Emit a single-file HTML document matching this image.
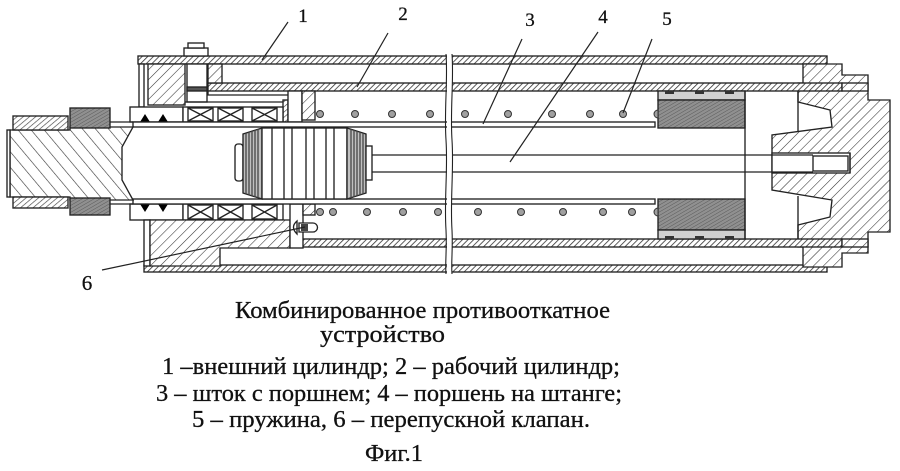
<!DOCTYPE html>
<html><head><meta charset="utf-8">
<style>
html,body{margin:0;padding:0;background:#fff;}
svg{display:block;}
text{font-family:"Liberation Serif","Noto Serif CJK SC",serif;fill:#111;stroke:#111;stroke-width:0.3;}
</style></head><body>
<svg width="900" height="471" viewBox="0 0 900 471" xmlns="http://www.w3.org/2000/svg">
<defs>
<pattern id="hb" patternUnits="userSpaceOnUse" width="4" height="4" patternTransform="rotate(45)"><rect width="4" height="4" fill="#fff"/><line x1="0" y1="0" x2="0" y2="4" stroke="#333" stroke-width="1.6"/></pattern>
<pattern id="h7" patternUnits="userSpaceOnUse" width="7" height="7" patternTransform="rotate(45)"><rect width="7" height="7" fill="#fff"/><line x1="0" y1="0" x2="0" y2="7" stroke="#333" stroke-width="1.1"/></pattern>
<pattern id="hL" patternUnits="userSpaceOnUse" width="10" height="10" patternTransform="rotate(-40)"><rect width="10" height="10" fill="#fff"/><line x1="0" y1="0" x2="0" y2="10" stroke="#333" stroke-width="1.2"/></pattern>
<pattern id="hn" patternUnits="userSpaceOnUse" width="4" height="4" patternTransform="rotate(50)"><rect width="4" height="4" fill="#fff"/><line x1="0" y1="0" x2="0" y2="4" stroke="#444" stroke-width="1.3"/></pattern>
<pattern id="hd" patternUnits="userSpaceOnUse" width="3" height="3" patternTransform="rotate(60)"><rect width="3" height="3" fill="#909090"/><line x1="0" y1="0" x2="0" y2="3" stroke="#5a5a5a" stroke-width="1"/></pattern>
</defs>

<g stroke="#222" stroke-width="1.35">
<!-- outer tubes -->
<rect x="138" y="56" width="689" height="8" fill="url(#hb)"/>
<rect x="144" y="265" width="683" height="7" fill="url(#hb)"/>

<!-- right cap -->
<path d="M803,64 H842 V75 H868 V100 H890 V232 H868 V253 H842 V267 H803 V247 H798 V225 L830,217 L832,200 L772,190 V135 L832,127 L830,110 L798,102 V83 H803 Z" fill="url(#h7)"/>
<rect x="772" y="153" width="78" height="20" fill="#fff"/>
<line x1="798" y1="91" x2="798" y2="131" fill="none"/>
<line x1="798" y1="196" x2="798" y2="240" fill="none"/>

<!-- working cylinder bands -->
<rect x="208" y="83" width="634" height="8" fill="url(#hb)"/>
<rect x="302" y="239" width="540" height="8" fill="url(#hb)"/>
<rect x="842" y="83" width="26" height="8" fill="url(#h7)"/>
<rect x="842" y="239" width="26" height="8" fill="url(#h7)"/>

<!-- top flange -->
<rect x="139" y="64" width="5" height="43" fill="#fff"/>
<rect x="148" y="64" width="37" height="41" fill="url(#h7)"/>
<rect x="208" y="64" width="14" height="19" fill="url(#h7)"/>
<rect x="184" y="48" width="24" height="8" fill="#fff"/>
<rect x="188" y="43" width="16" height="5" fill="#fff"/>
<rect x="187" y="64" width="20" height="38" fill="#fff"/>
<rect x="187" y="87" width="20" height="4" fill="#555"/>
<polyline points="208,91 208,95 288,95" fill="none"/>
<line x1="185" y1="102" x2="283" y2="102"/>
<rect x="283" y="100" width="5" height="22" fill="url(#hn)"/>

<!-- seals & bearings top -->
<rect x="130" y="107" width="53" height="15" fill="#fff"/>
<polygon points="140,122 145,114 150,122" fill="#000" stroke="none"/>
<polygon points="158,122 163,114 168,122" fill="#000" stroke="none"/>
<rect x="183" y="107" width="100" height="15" fill="#fff"/>
<g fill="none">
<rect x="188" y="108" width="25" height="13"/><path d="M188,108 L213,121 M213,108 L188,121"/>
<rect x="218" y="108" width="25" height="13"/><path d="M218,108 L243,121 M243,108 L218,121"/>
<rect x="252" y="108" width="25" height="13"/><path d="M252,108 L277,121 M277,108 L252,121"/>
</g>

<!-- seals & bearings bottom -->
<rect x="130" y="204" width="53" height="16" fill="#fff"/>
<polygon points="140,204 150,204 145,212" fill="#000" stroke="none"/>
<polygon points="158,204 168,204 163,212" fill="#000" stroke="none"/>
<rect x="183" y="204" width="100" height="16" fill="#fff"/>
<g fill="none">
<rect x="188" y="205" width="25" height="14"/><path d="M188,205 L213,219 M213,205 L188,219"/>
<rect x="218" y="205" width="25" height="14"/><path d="M218,205 L243,219 M243,205 L218,219"/>
<rect x="252" y="205" width="25" height="14"/><path d="M252,205 L277,219 M277,205 L252,219"/>
</g>

<!-- lower housing block -->
<rect x="144" y="220" width="6" height="46" fill="#fff"/>
<path d="M150,220 H290 V248 H220 V266 H150 Z" fill="url(#h7)"/>

<!-- separator plate -->
<rect x="288" y="91" width="14" height="31" fill="#fff"/>
<rect x="302" y="91" width="13" height="29" fill="url(#h7)"/>
<rect x="290" y="204" width="13" height="44" fill="#fff"/>
<rect x="303" y="204" width="12" height="11" fill="url(#h7)"/>

<!-- valve 6 -->
<path d="M297,221 Q290,227 297,234 Z" fill="#fff"/>
<path d="M299,223 H313 A4.5,4.5 0 0 1 313,232 H299 Z" fill="#fff"/>
<rect x="301" y="224" width="7" height="7" fill="#444" stroke="none"/>

<!-- rod 3 tube walls -->
<rect x="133" y="122" width="522" height="5" fill="#fff"/>
<rect x="133" y="199" width="522" height="5" fill="#fff"/>

<!-- piston 5 -->
<rect x="658" y="91" width="87" height="9" fill="#d0d0d0"/>
<rect x="658" y="100" width="87" height="28" fill="url(#hd)"/>
<rect x="658" y="199" width="87" height="31" fill="url(#hd)"/>
<rect x="658" y="230" width="87" height="9" fill="#d0d0d0"/>
<g fill="#333" stroke="none">
<rect x="665" y="91" width="9" height="3"/><rect x="695" y="91" width="9" height="3"/><rect x="725" y="91" width="9" height="3"/>
<rect x="665" y="236" width="9" height="3"/><rect x="695" y="236" width="9" height="3"/><rect x="725" y="236" width="9" height="3"/>
</g>
<line x1="745" y1="91" x2="745" y2="239"/>

<!-- rod 4 -->
<line x1="372" y1="155" x2="813" y2="155"/>
<line x1="372" y1="172" x2="813" y2="172"/>
<rect x="813" y="156" width="35" height="15" fill="#fff"/>
<line x1="850" y1="153" x2="850" y2="173"/>

<!-- piston 4 (ribbed) -->
<rect x="235" y="144" width="8" height="37" rx="3" fill="#fff"/>
<polygon points="243,134 262,128 262,199 243,193" fill="#c0c0c0"/>
<g stroke="#444" stroke-width="1.3" fill="none">
<line x1="246" y1="133" x2="246" y2="194"/><line x1="249" y1="132" x2="249" y2="195"/><line x1="252" y1="131" x2="252" y2="196"/><line x1="255" y1="130" x2="255" y2="197"/><line x1="258" y1="129" x2="258" y2="198"/>
</g>
<rect x="262" y="128" width="85" height="71" fill="#fff"/>
<g fill="none">
<line x1="272" y1="128" x2="272" y2="199"/><line x1="284" y1="128" x2="284" y2="199"/><line x1="292" y1="128" x2="292" y2="199"/><line x1="306" y1="128" x2="306" y2="199"/><line x1="314" y1="128" x2="314" y2="199"/><line x1="326" y1="128" x2="326" y2="199"/><line x1="334" y1="128" x2="334" y2="199"/>
</g>
<polygon points="347,128 366,134 366,193 347,199" fill="#c0c0c0"/>
<g stroke="#444" stroke-width="1.3" fill="none">
<line x1="351" y1="129" x2="351" y2="198"/><line x1="354" y1="130" x2="354" y2="197"/><line x1="357" y1="131" x2="357" y2="196"/><line x1="360" y1="132" x2="360" y2="195"/><line x1="363" y1="133" x2="363" y2="194"/>
</g>
<rect x="366" y="146" width="6" height="34" fill="#fff"/>

<!-- springs -->
<g fill="#a0a0a0" stroke="#333" stroke-width="1">
<circle cx="320" cy="114" r="3.5"/><circle cx="355" cy="114" r="3.5"/><circle cx="392" cy="114" r="3.5"/><circle cx="430" cy="114" r="3.5"/><circle cx="465" cy="114" r="3.5"/><circle cx="508" cy="114" r="3.5"/><circle cx="552" cy="114" r="3.5"/><circle cx="590" cy="114" r="3.5"/><circle cx="623" cy="114" r="3.5"/>
<path d="M658,110 A4,4 0 0 0 658,118 Z"/>
<circle cx="320" cy="212" r="3.5"/><circle cx="333" cy="212" r="3.5"/><circle cx="367" cy="212" r="3.5"/><circle cx="403" cy="212" r="3.5"/><circle cx="438" cy="212" r="3.5"/><circle cx="478" cy="212" r="3.5"/><circle cx="521" cy="212" r="3.5"/><circle cx="563" cy="212" r="3.5"/><circle cx="603" cy="212" r="3.5"/><circle cx="632" cy="212" r="3.5"/>
<path d="M658,208 A4,4 0 0 0 658,216 Z"/>
</g>

<!-- left threaded piece & nuts -->
<path d="M10,130 H70 V127 H133 L122,147 V180 L133,200 H70 V197 H10 Z" fill="url(#hL)"/>
<rect x="7" y="130" width="3" height="67" fill="#fff"/>
<rect x="13" y="116" width="55" height="14" fill="url(#hn)"/>
<rect x="13" y="197" width="55" height="11" fill="url(#hn)"/>
<rect x="70" y="108" width="40" height="20" fill="url(#hd)"/>
<rect x="70" y="198" width="40" height="17" fill="url(#hd)"/>
<line x1="110" y1="122" x2="133" y2="122"/>
<line x1="110" y1="204" x2="133" y2="204"/>
</g>

<!-- break -->
<rect x="447" y="50" width="5" height="226" fill="#fff"/>
<g stroke="#222" stroke-width="1.1" fill="none">
<path d="M446,54 C448,80 444,110 446,140 C448,170 444,200 446,230 C447,250 445,262 446,274"/>
<path d="M452,54 C454,80 450,110 452,140 C454,170 450,200 452,230 C453,250 451,262 452,274"/>
</g>

<!-- leaders -->
<g stroke="#222" stroke-width="1.2">
<line x1="288" y1="22" x2="262" y2="60"/>
<line x1="388" y1="33" x2="357" y2="87"/>
<line x1="522" y1="39" x2="483" y2="124"/>
<line x1="598" y1="32" x2="510" y2="162"/>
<line x1="652" y1="39" x2="623" y2="113"/>
<line x1="102" y1="270" x2="305" y2="227"/>
</g>

<!-- labels -->
<g font-size="19" text-anchor="middle">
<text x="303" y="22">1</text>
<text x="403" y="20">2</text>
<text x="530" y="26">3</text>
<text x="603" y="23">4</text>
<text x="667" y="25">5</text>
<text x="87" y="290" font-size="21">6</text>
</g>

<!-- caption -->
<g font-size="24">
<text x="235" y="318" textLength="375" lengthAdjust="spacingAndGlyphs">Комбинированное противооткатное</text>
<text x="320" y="342" textLength="125" lengthAdjust="spacingAndGlyphs">устройство</text>
<text x="162" y="374" textLength="458" lengthAdjust="spacingAndGlyphs">1 –внешний цилиндр; 2 – рабочий цилиндр;</text>
<text x="156" y="401" textLength="466" lengthAdjust="spacingAndGlyphs">3 – шток с поршнем; 4 – поршень на штанге;</text>
<text x="192" y="427" textLength="398" lengthAdjust="spacingAndGlyphs">5 – пружина, 6 – перепускной клапан.</text>
<text x="365" y="461" textLength="58" lengthAdjust="spacingAndGlyphs">Фиг.1</text>
</g>
</svg>
</body></html>
